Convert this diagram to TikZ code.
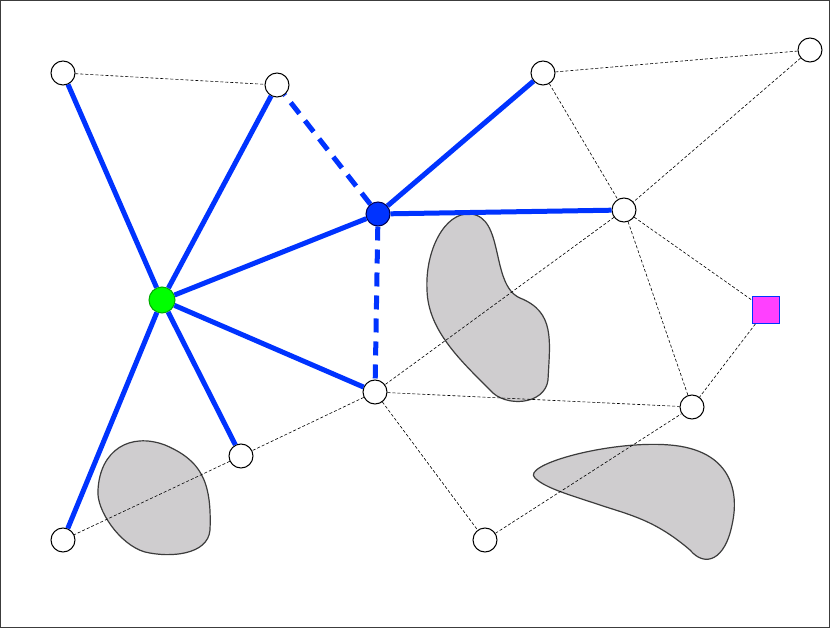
\documentclass[tikz,border=0pt]{standalone}
\begin{document}
\begin{tikzpicture}[x=1pt,y=-1pt,
 nd/.style={circle,draw,fill=white,minimum size=24pt,inner sep=0pt,line width=1pt},
 thin/.style={dash pattern=on 3pt off 2pt,line width=0.6pt},
 thick/.style={draw={rgb,255:red,0;green,51;blue,255},line width=5pt},
 thickd/.style={thick,dash pattern=on 14pt off 9pt},
 blob/.style={draw={rgb,255:red,60;green,60;blue,60},fill={rgb,255:red,207;green,205;blue,207},line width=1.2pt}]
\draw[draw={rgb,255:red,60;green,60;blue,60},line width=1pt,fill=white] (0.5,0.5) rectangle (829.5,627.5);
\draw[blob] (98,490) .. controls (100,450) and (130,432) .. (165,445) .. controls (200,460) and (212,480) .. (210,530) .. controls (208,555) and (170,558) .. (145,552) .. controls (120,545) and (96,510) .. (98,490) -- cycle;
\draw[blob] (427,290) .. controls (425,250) and (445,212) .. (470,214) .. controls (505,216) and (490,285) .. (520,298) .. controls (555,312) and (550,340) .. (548,380) .. controls (545,405) and (505,408) .. (490,390) .. controls (460,360) and (428,330) .. (427,290) -- cycle;
\draw[blob] (535,478) .. controls (520,465) and (610,440) .. (670,445) .. controls (730,450) and (740,490) .. (732,525) .. controls (725,560) and (705,568) .. (690,550) .. controls (655,520) and (630,515) .. (600,505) .. controls (570,495) and (545,488) .. (535,478) -- cycle;
\node[nd] (a) at (63,73) {};
\node[nd] (b) at (277,85) {};
\node[nd] (c) at (543,73) {};
\node[nd] (d) at (810,50) {};
\node[nd] (e) at (624,210) {};
\node[nd] (f) at (375,392) {};
\node[nd] (g) at (692,407) {};
\node[nd] (h) at (241,456) {};
\node[nd] (i) at (63,540) {};
\node[nd] (j) at (485,540) {};
\node[circle,draw={rgb,255:red,0;green,0;blue,80},line width=1pt,fill={rgb,255:red,0;green,51;blue,255},minimum size=24pt,inner sep=0pt] (bl) at (378,214) {};
\node[circle,draw={rgb,255:red,0;green,170;blue,0},line width=1pt,fill={rgb,255:red,0;green,255;blue,0},minimum size=26pt,inner sep=0pt] (gr) at (162,300) {};
\node[rectangle,draw={rgb,255:red,0;green,51;blue,255},line width=1pt,fill={rgb,255:red,255;green,64;blue,255},minimum size=27pt,inner sep=0pt] (sq) at (766,310) {};
\draw[thin] (a)--(b) (c)--(d) (c)--(e) (d)--(e) (e)--(f) (f)--(h) (h)--(i) (f)--(g) (f)--(j) (j)--(g) (e)--(g) (e)--(sq) (sq)--(g);
\draw[thick] (gr)--(a) (gr)--(b) (gr)--(bl) (gr)--(f) (gr)--(h) (gr)--(i) (bl)--(c) (bl)--(e);
\draw[thickd] (bl)--(b) (bl)--(f);
\end{tikzpicture}
\end{document}
